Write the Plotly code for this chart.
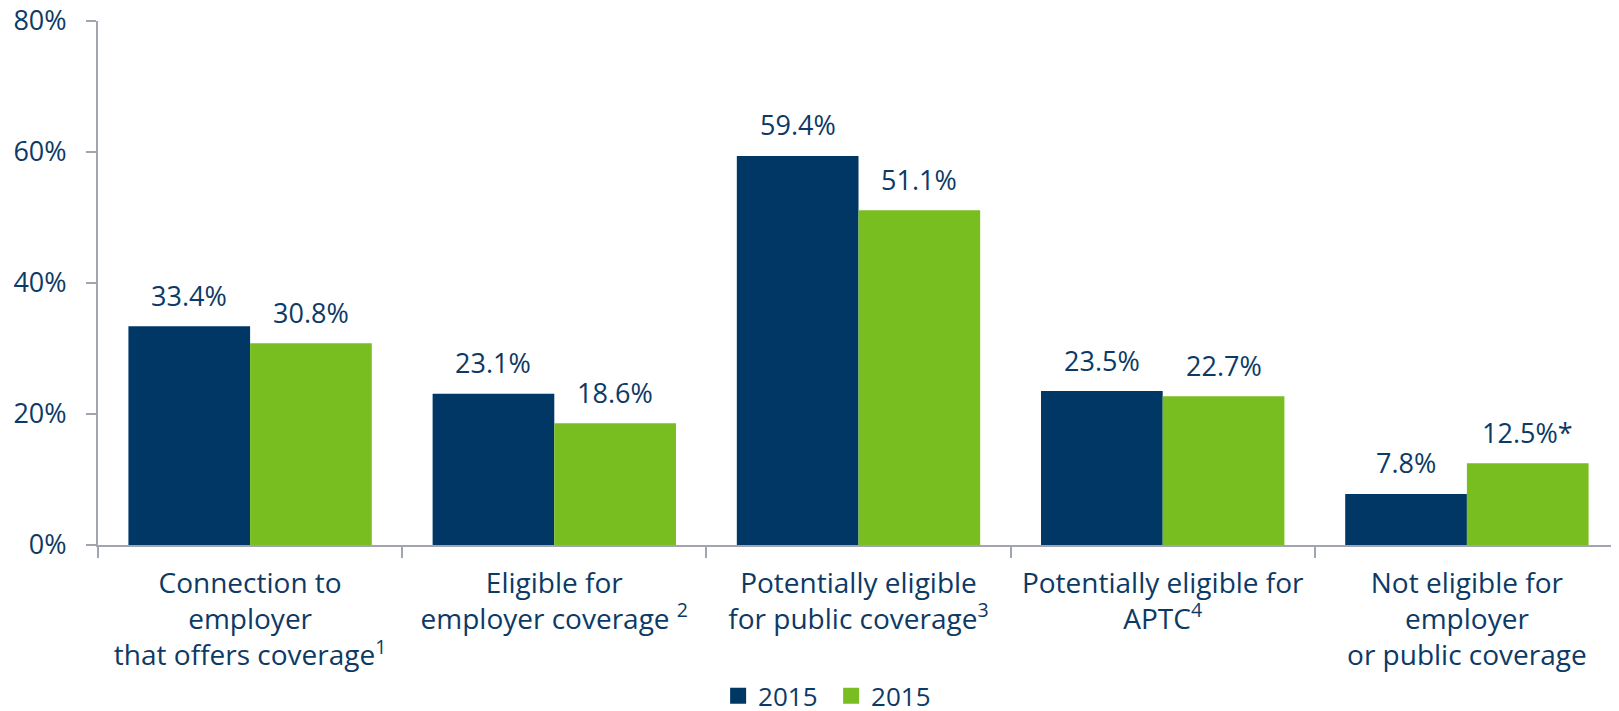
import plotly.graph_objects as go

categories = [
    "Connection to<br>employer<br>that offers coverage<sup>1</sup>",
    "Eligible for<br>employer coverage <sup>2</sup>",
    "Potentially eligible<br>for public coverage<sup>3</sup>",
    "Potentially eligible for<br>APTC<sup>4</sup>",
    "Not eligible for<br>employer<br>or public coverage",
]
series_a_name = "2015"
series_a = [33.4, 23.1, 59.4, 23.5, 7.8]
series_a_labels = ["33.4%", "23.1%", "59.4%", "23.5%", "7.8%"]
series_b_name = "2015"
series_b = [30.8, 18.6, 51.1, 22.7, 12.5]
series_b_labels = ["30.8%", "18.6%", "51.1%", "22.7%", "12.5%*"]
y_ticks = [0, 20, 40, 60, 80]
y_tick_labels = ["0%", "20%", "40%", "60%", "80%"]

TEXT = "#0d3a65"
AXIS = "#a0a5b0"
FONT = "Open Sans"
BARGAP = 0.2
COLOR_A = "#003764"
COLOR_B = "#78be21"

fig = go.Figure()
fig.add_trace(go.Bar(x=categories, y=series_a, name=series_a_name, showlegend=False,
                     marker=dict(color=COLOR_A, line=dict(width=0))))
fig.add_trace(go.Bar(x=categories, y=series_b, name=series_b_name, showlegend=False,
                     marker=dict(color=COLOR_B, line=dict(width=0))))
# legend entries with larger square swatches
fig.add_trace(go.Scatter(x=[None], y=[None], mode="markers", name=series_a_name,
                         marker=dict(symbol="square", size=18, color=COLOR_A)))
fig.add_trace(go.Scatter(x=[None], y=[None], mode="markers", name=series_b_name,
                         marker=dict(symbol="square", size=18, color=COLOR_B)))

# value labels above each bar (category index +/- quarter of group width)
half = (1 - BARGAP) / 4
annotations = []
for i, (va, la, vb, lb) in enumerate(zip(series_a, series_a_labels, series_b, series_b_labels)):
    annotations.append(dict(x=i - half, y=va, xref="x", yref="y", text=la, showarrow=False,
                            yanchor="middle", yshift=31,
                            font=dict(size=27, color=TEXT, family=FONT)))
    annotations.append(dict(x=i + half, y=vb, xref="x", yref="y", text=lb, showarrow=False,
                            yanchor="middle", yshift=31,
                            font=dict(size=27, color=TEXT, family=FONT)))

fig.update_layout(
    width=1611, height=703,
    margin=dict(l=90, r=0, t=13, b=166, autoexpand=False),
    paper_bgcolor="white", plot_bgcolor="white",
    barmode="group", bargap=BARGAP, bargroupgap=0,
    font=dict(family=FONT, color=TEXT, size=27),
    showlegend=True,
    legend=dict(orientation="h", x=0.482, xanchor="center", y=-0.288, yanchor="middle",
                font=dict(size=26, color=TEXT, family=FONT), traceorder="normal",
                itemwidth=30, entrywidth=68, entrywidthmode="pixels", itemsizing="trace"),
    annotations=annotations,
)
fig.update_xaxes(showline=True, linecolor=AXIS, linewidth=2, ticks="outside",
                 tickson="boundaries", ticklen=11, tickcolor=AXIS, tickwidth=2,
                 tickfont=dict(size=28, color=TEXT, family=FONT), showgrid=False,
                 automargin=False, ticklabelstandoff=12, ticklabeloverflow="allow")
fig.update_yaxes(range=[0, 80], tickvals=y_ticks, ticktext=y_tick_labels,
                 showline=True, linecolor=AXIS, linewidth=2, ticks="outside",
                 ticklen=10, tickcolor=AXIS, tickwidth=2, showgrid=False, zeroline=False,
                 tickfont=dict(size=27, color=TEXT, family=FONT), automargin=False,
                 ticklabelstandoff=14, ticklabeloverflow="allow")

fig.write_html("out.html")
